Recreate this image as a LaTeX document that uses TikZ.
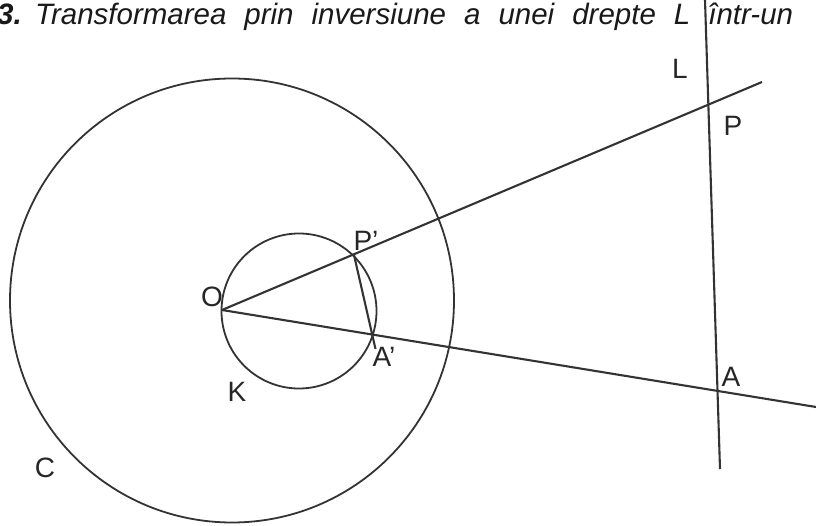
\documentclass[tikz,border=0pt]{standalone}
\usepackage{fontspec}
\setmainfont{Liberation Sans}
\begin{document}
\begin{tikzpicture}[x=1pt,y=-1pt,
  geo/.style={draw=black!80, line width=2.1pt},
  circ/.style={draw=black!80, line width=1.8pt},
  lbl/.style={font=\fontsize{28}{30}\selectfont, inner sep=0pt, text=black!85},
  ttl/.style={font=\fontsize{29.5}{32}\selectfont\itshape, inner sep=0pt, text=black!90}]
\useasboundingbox (0,0) rectangle (816,526);
% points
\coordinate (O) at (222,310);
\coordinate (Cc) at (232,300.5);
\coordinate (Kc) at (299,311);
\coordinate (Ue) at (762,82);
\coordinate (De) at (816,407);
\coordinate (Lt) at (705,0);
\coordinate (Lb) at (720,469);
\coordinate (Pp) at (354,255);
\coordinate (Ap) at (373,337);
\coordinate (Ape) at (375.5,349);
% circles
\draw[circ] (Cc) circle (222);
\draw[circ] (Kc) circle (77.5);
% lines
\draw[geo] (O) -- (Ue);
\draw[geo] (O) -- (De);
\draw[geo] (Lt) -- (Lb);
\draw[geo] (Pp) -- (Ape);
% labels
\node[lbl] (lO) at (212,297) {O};
\node[lbl] (lPp) at (366,241) {P’};
\node[lbl] (lAp) at (384,357) {A’};
\node[lbl] (lK) at (237,392) {K};
\node[lbl] (lC) at (45,468) {C};
\node[lbl] (lL) at (680,69) {L};
\node[lbl] (lP) at (733,126) {P};
\node[lbl] (lA) at (731,377) {A};
% title
\node[ttl, anchor=base east] (t3) at (22,25) {\bfseries 3.};
\node[ttl, anchor=base west] (title) at (35,25) {\makebox[758pt][s]{Transformarea prin inversiune a unei drepte L într-un}};
\end{tikzpicture}
\end{document}
